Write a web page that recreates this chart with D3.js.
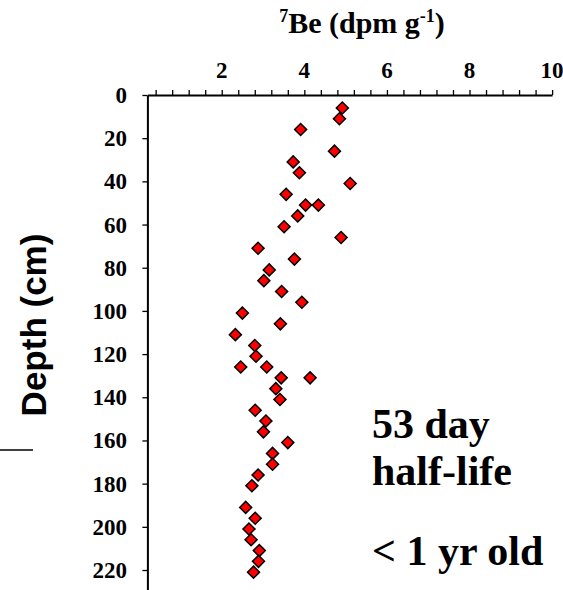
<!DOCTYPE html>
<html>
<head>
<meta charset="utf-8">
<script src="https://cdn.jsdelivr.net/npm/d3@7"></script>
<style>
  body { margin: 0; background: #fff; }
  svg { display: block; }
  .tickLabel { font-family: "Liberation Serif", "Times New Roman", serif; font-weight: bold; font-size: 23px; }
  .note { font-family: "Liberation Serif", "Times New Roman", serif; font-weight: bold; font-size: 42px; }
</style>
</head>
<body>
<div id="chart"></div>
<script>
/* data */
var depths = [6, 11, 16, 26, 31, 36, 41, 46, 51, 51, 56, 61, 66, 71, 76, 81, 86, 91, 96, 101,
  106, 111, 116, 121, 126, 126, 131, 131, 136, 141, 146, 151, 156, 161, 166, 171, 176, 181,
  191, 196, 201, 206, 211, 216, 221]
var be7 = [4.92, 4.85, 3.91, 4.73, 3.73, 3.88, 5.11, 3.56, 4.03, 4.34, 3.84, 3.51, 4.89, 2.88, 3.76, 3.15, 3.02, 3.45, 3.94, 2.50,
  3.42, 2.33, 2.80, 2.83, 2.46, 3.09, 3.44, 4.14, 3.31, 3.41, 2.81, 3.07, 3.01, 3.60, 3.23, 3.23, 2.88, 2.73,
  2.58, 2.81, 2.66, 2.71, 2.91, 2.89, 2.77]
var xTicks = [2, 4, 6, 8, 10]
var yTicks = [0, 20, 40, 60, 80, 100, 120, 140, 160, 180, 200, 220]
var noteLines = ["53 day", "half-life", "< 1 yr old"]

var width = 563
var height = 590

var svg = d3.select("#chart").append("svg")
  .attr("width", width)
  .attr("height", height)

var x = d3.scaleLinear().domain([0.2, 10]).range([147.4, 552.1])
var y = d3.scaleLinear().domain([0, 230]).range([95, 591.6])

// top axis: minor ticks every 0.4, labels on the majors
var minorTicks = d3.range(0.4, 10.01, 0.4)
var topAxis = svg.append("g")
  .attr("transform", "translate(0," + y(0) + ")")
  .call(d3.axisTop(x).tickValues(minorTicks).tickSize(5).tickSizeOuter(0).tickFormat(""))
topAxis.select(".domain").attr("stroke-width", 2)
topAxis.selectAll(".tick line").attr("stroke-width", 1.3)

svg.selectAll(".xLabel")
  .data(xTicks)
  .enter().append("text")
  .attr("class", "tickLabel")
  .attr("x", d => x(d))
  .attr("y", 78)
  .attr("text-anchor", "middle")
  .text(d => d)

// left axis
var leftAxis = svg.append("g")
  .attr("transform", "translate(" + x(0.2) + ",0)")
  .call(d3.axisLeft(y).tickValues(yTicks).tickSize(5).tickSizeOuter(0).tickFormat(""))
leftAxis.select(".domain").attr("stroke-width", 2)
leftAxis.selectAll(".tick line").attr("stroke-width", 1.3)

svg.selectAll(".yLabel")
  .data(yTicks)
  .enter().append("text")
  .attr("class", "tickLabel")
  .attr("x", 127)
  .attr("y", d => y(d) + 8)
  .attr("text-anchor", "end")
  .text(d => d)

// titles
var title = svg.append("text")
  .attr("x", 362)
  .attr("y", 33)
  .attr("text-anchor", "middle")
  .style("font-family", "'Liberation Serif', 'Times New Roman', serif")
  .style("font-weight", "bold")
  .style("font-size", "30px")
title.append("tspan").attr("font-size", "18px").attr("dy", -11).text("7")
title.append("tspan").attr("dy", 11).text("Be (dpm g")
title.append("tspan").attr("font-size", "18px").attr("dy", -11).text("-1")
title.append("tspan").attr("dy", 11).text(")")

svg.append("text")
  .attr("transform", "translate(46,325) rotate(-90)")
  .attr("text-anchor", "middle")
  .style("font-family", "'Liberation Sans', Arial, sans-serif")
  .style("font-weight", "bold")
  .style("font-size", "35px")
  .text("Depth (cm)")

// stray line on the left edge
svg.append("line")
  .attr("x1", 0).attr("x2", 33)
  .attr("y1", 450).attr("y2", 450)
  .attr("stroke", "#000")
  .attr("stroke-width", 1.3)

// points
var diamond = d3.symbol().type(d3.symbolSquare).size(72)
svg.selectAll(".pt")
  .data(depths.map((d, i) => ({ depth: d, value: be7[i] })))
  .enter().append("path")
  .attr("class", "pt")
  .attr("d", diamond)
  .attr("transform", d => "translate(" + x(d.value) + "," + y(d.depth) + ") rotate(45)")
  .attr("fill", "#ff0000")
  .attr("stroke", "#000")
  .attr("stroke-width", 1.5)

// annotation
var noteY = [438, 485, 565]
svg.selectAll(".note")
  .data(noteLines)
  .enter().append("text")
  .attr("class", "note")
  .attr("x", 372)
  .attr("y", (d, i) => noteY[i])
  .text(d => d)
</script>
</body>
</html>
